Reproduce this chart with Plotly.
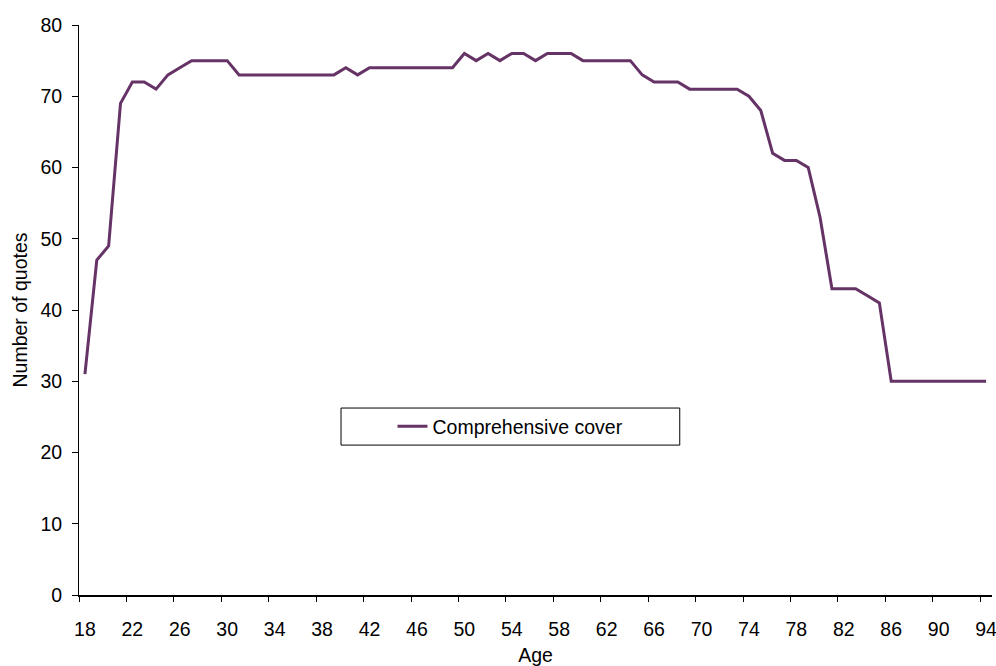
import plotly.graph_objects as go

ages = list(range(18, 95))
quotes = [
    31, 47, 49, 69, 72, 72, 71, 73, 74, 75,   # 18-27
    75, 75, 75, 73, 73, 73, 73, 73, 73, 73,   # 28-37
    73, 73, 74, 73, 74, 74, 74, 74, 74, 74,   # 38-47
    74, 74, 76, 75, 76, 75, 76, 76, 75, 76,   # 48-57
    76, 76, 75, 75, 75, 75, 75, 73, 72, 72,   # 58-67
    72, 71, 71, 71, 71, 71, 70, 68, 62, 61,   # 68-77
    61, 60, 53, 43, 43, 43, 42, 41, 30, 30,   # 78-87
    30, 30, 30, 30, 30, 30, 30,               # 88-94
]
series_name = "Comprehensive cover"
x_ticks = list(range(18, 95, 4))
x_tick_marks = [v - 0.5 for v in x_ticks]
y_ticks = list(range(0, 81, 10))

FONT = "Liberation Sans, Arial, sans-serif"
LINE_COLOR = "#663366"

fig = go.Figure()
fig.add_trace(go.Scatter(
    x=ages, y=quotes, mode="lines", name=series_name,
    line=dict(color=LINE_COLOR, width=3),
))

fig.update_layout(
    width=996, height=666,
    margin=dict(l=79, r=4, t=25, b=71, autoexpand=False),
    paper_bgcolor="white", plot_bgcolor="white",
    font=dict(family=FONT, size=19.5, color="black"),
    showlegend=True,
    legend=dict(
        x=0.4726, y=0.2956, xanchor="center", yanchor="middle",
        bgcolor="rgba(0,0,0,0)", borderwidth=0,
        font=dict(family=FONT, size=19.5, color="black"),
    ),
    shapes=[dict(
        type="rect", xref="paper", yref="paper",
        x0=0.287, x1=0.658, y0=0.263, y1=0.328,
        line=dict(color="black", width=1), fillcolor="rgba(0,0,0,0)",
        layer="below",
    )],
)

fig.update_xaxes(
    range=[17.5, 94.5], automargin=False,
    tickmode="array", tickvals=x_ticks, ticktext=[str(v) for v in x_ticks],
    ticks="", ticklabelstandoff=16, ticklabeloverflow="allow",
    minor=dict(tickmode="array", tickvals=x_tick_marks, ticks="outside",
               ticklen=5, tickwidth=1, tickcolor="black", showgrid=False),
    showline=True, linecolor="black", linewidth=2,
    showgrid=False, zeroline=False,
    title=dict(text="Age", standoff=12,
               font=dict(family=FONT, size=19.5)),
)
fig.update_yaxes(
    range=[0, 80], automargin=False,
    tickmode="array", tickvals=y_ticks,
    ticks="outside", ticklen=6, tickwidth=1, tickcolor="black",
    ticklabelstandoff=6,
    showline=True, linecolor="black", linewidth=1,
    showgrid=False, zeroline=False,
    title=dict(text="Number of quotes", standoff=7,
               font=dict(family=FONT, size=19.5)),
)

fig.write_html(
    "out.html",
    config={"displayModeBar": False},
    post_script="document.body.style.margin='0';document.body.style.overflow='hidden';",
)
